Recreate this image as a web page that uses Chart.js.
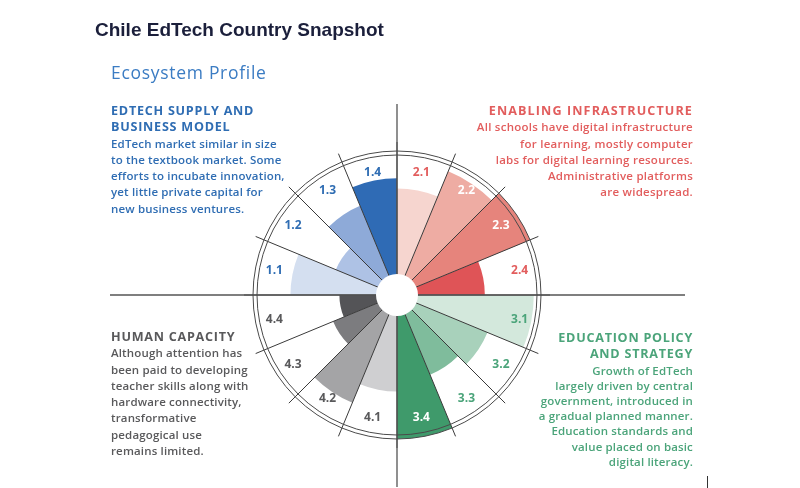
<!DOCTYPE html>
<html>
<head>
<meta charset="utf-8">
<script src="https://cdn.jsdelivr.net/npm/chart.js@4.4.1/dist/chart.umd.min.js"></script>
<style>
  html, body { margin: 0; padding: 0; background: #ffffff; }
  #wrap { position: relative; width: 800px; height: 488px; overflow: hidden; background: #fff; }
  #c { position: absolute; left: 0; top: 0; }
  .t { position: absolute; white-space: nowrap; }
  #title { left: 95px; top: 19px; font-family: "Liberation Sans", Arial, sans-serif; font-weight: 700; font-size: 19px; color: #1b1f3b; }
  #sub { left: 111px; top: 60px; font-family: "Open Sans", sans-serif; font-weight: 500; font-size: 17.5px; letter-spacing: 0.7px; color: #3b7cc3; }
  .blk { position: absolute; font-family: "Open Sans", sans-serif; white-space: nowrap; }
  .blk .h { font-weight: 700; font-size: 12.6px; letter-spacing: 0.75px; line-height: 16.3px; }
  .blk .b { font-weight: 600; font-size: 11.5px; letter-spacing: 0.15px; line-height: 16.3px; }
  #q1 { left: 111px; top: 103px; color: #2f6db3; }
  #q2 { right: 107px; top: 103px; color: #e25d5d; text-align: right; }
  #q2 .h { letter-spacing: 1.1px; }
  #q2 .b { letter-spacing: 0.25px; }
  #q4 { left: 111px; top: 329px; color: #59595b; }
  #q3 { right: 107px; top: 330px; color: #4ba47a; text-align: right; }
  #q3 .b { line-height: 15.2px; }
  #tick { position: absolute; left: 707px; top: 476px; width: 1px; height: 12px; background: #333; }
</style>
</head>
<body>
<div id="wrap">
  <canvas id="c" width="800" height="488"></canvas>
  <div class="t" id="title">Chile EdTech Country Snapshot</div>
  <div class="t" id="sub">Ecosystem Profile</div>
  <div class="blk" id="q1"><div class="h">EDTECH SUPPLY AND<br>BUSINESS MODEL</div><div class="b">EdTech market similar in size<br>to the textbook market. Some<br>efforts to incubate innovation,<br>yet little private capital for<br>new business ventures.</div></div>
  <div class="blk" id="q2"><div class="h">ENABLING INFRASTRUCTURE</div><div class="b">All schools have digital infrastructure<br>for learning, mostly computer<br>labs for digital learning resources.<br>Administrative platforms<br>are widespread.</div></div>
  <div class="blk" id="q4"><div class="h">HUMAN CAPACITY</div><div class="b">Although attention has<br>been paid to developing<br>teacher skills along with<br>hardware connectivity,<br>transformative<br>pedagogical use<br>remains limited.</div></div>
  <div class="blk" id="q3"><div class="h">EDUCATION POLICY<br>AND STRATEGY</div><div class="b">Growth of EdTech<br>largely driven by central<br>government, introduced in<br>a gradual planned manner.<br>Education standards and<br>value placed on basic<br>digital literacy.</div></div>
  <div id="tick"></div>
</div>
<script>
// Segment labels, clockwise starting at 9 o'clock
const categories = ['1.1','1.2','1.3','1.4','2.1','2.2','2.3','2.4','3.1','3.2','3.3','3.4','4.1','4.2','4.3','4.4'];
// Values (0-100, 100 = outer ring)
const values = [74, 46, 67, 81, 74, 93, 100, 61, 95, 68, 60, 100, 67, 81, 48, 40];
const fillColors = ['#d4dff0','#aec2e5','#8eaad8','#2f6bb5',
                    '#f6d5cf','#eeaca3','#e6847c','#df5457',
                    '#d3e8dc','#a8d1bb','#7fbc9c','#3f9a6b',
                    '#cfcfd1','#a4a4a6','#7c7c7f','#545457'];
const labelColors = ['#2f6db3','#2f6db3','#2f6db3','#2f6db3',
                     '#e25d5d','#ffffff','#ffffff','#e25d5d',
                     '#4ba47a','#4ba47a','#4ba47a','#ffffff',
                     '#59595b','#59595b','#59595b','#59595b'];
const scaleMax = 100;

const decor = {
  id: 'decor',
  afterDatasetsDraw(chart) {
    const ctx = chart.ctx;
    const s = chart.scales.r;
    const cx = s.xCenter, cy = s.yCenter, R = s.drawingArea;
    const k = R / 144;
    const meta = chart.getDatasetMeta(0);
    ctx.save();
    // divider lines
    ctx.strokeStyle = '#3a3a3a';
    ctx.lineWidth = 1;
    meta.data.forEach(arc => {
      const a = arc.startAngle;
      ctx.beginPath();
      ctx.moveTo(cx + Math.cos(a) * 20 * k, cy + Math.sin(a) * 20 * k);
      ctx.lineTo(cx + Math.cos(a) * 153 * k, cy + Math.sin(a) * 153 * k);
      ctx.stroke();
    });
    // axis lines
    ctx.strokeStyle = '#555';
    ctx.lineWidth = 1.3;
    ctx.beginPath();
    ctx.moveTo(cx - 287 * k, cy); ctx.lineTo(cx + 288 * k, cy);
    ctx.moveTo(cx, cy - 191 * k); ctx.lineTo(cx, cy + 192 * k);
    ctx.stroke();
    // double ring
    ctx.strokeStyle = '#4a4a4a';
    ctx.lineWidth = 1;
    [140, 144].forEach(r => {
      ctx.beginPath();
      ctx.arc(cx, cy, r * k, 0, Math.PI * 2);
      ctx.stroke();
    });
    // center hole
    ctx.fillStyle = '#ffffff';
    ctx.beginPath();
    ctx.arc(cx, cy, 21 * k, 0, Math.PI * 2);
    ctx.fill();
    // labels
    ctx.font = '700 12px "Open Sans", sans-serif';
    ctx.textAlign = 'center';
    ctx.textBaseline = 'middle';
    meta.data.forEach((arc, i) => {
      const a = (arc.startAngle + arc.endAngle) / 2;
      const d = 125 * k;
      ctx.fillStyle = labelColors[i];
      ctx.fillText(chart.data.labels[i], cx + Math.cos(a) * d, cy + Math.sin(a) * d);
    });
    ctx.restore();
  }
};

new Chart(document.getElementById('c'), {
  type: 'polarArea',
  data: {
    labels: categories,
    datasets: [{
      data: values,
      backgroundColor: fillColors,
      borderWidth: 0
    }]
  },
  options: {
    responsive: false,
    animation: false,
    layout: { padding: { left: 253, right: 259, top: 151, bottom: 49 } },
    plugins: { legend: { display: false }, tooltip: { enabled: false } },
    scales: {
      r: {
        min: 0,
        max: scaleMax,
        startAngle: 270,
        ticks: { display: false },
        grid: { display: false },
        angleLines: { display: false },
        pointLabels: { display: false }
      }
    }
  },
  plugins: [decor]
});
</script>
</body>
</html>
